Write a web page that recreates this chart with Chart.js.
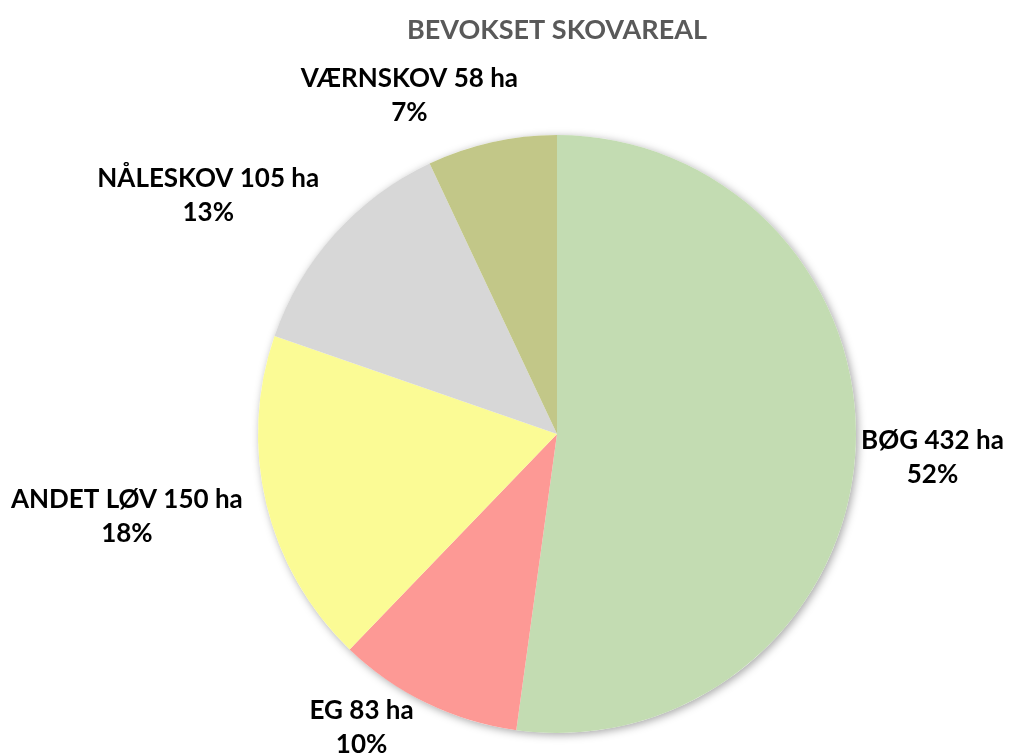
<!DOCTYPE html>
<html>
<head>
<meta charset="utf-8">
<script src="https://cdn.jsdelivr.net/npm/chart.js@4/dist/chart.umd.min.js"></script>
<style>
  html, body { margin: 0; padding: 0; background: #fff; }
  #wrap { width: 1024px; height: 756px; }
</style>
</head>
<body>
<div id="wrap"><canvas id="c"></canvas></div>
<script>
// ===== Data =====
const categories = ['BØG', 'EG', 'ANDET LØV', 'NÅLESKOV', 'VÆRNSKOV'];
const hectares   = [432, 83, 150, 105, 58];
const sliceColors = ['#c3dcb2', '#fd9995', '#fbfb95', '#d7d7d7', '#c2c788'];
const chartTitle = 'BEVOKSET SKOVAREAL';

const FONT = 'Lato, "Open Sans", sans-serif';

// ── Plugins ────────────────────────────────────────────────────────────────

// soft shadow behind the whole pie (drawn once, under the slices)
const pieShadow = {
  id: 'pieShadow',
  beforeDatasetsDraw(chart) {
    const arc = chart.getDatasetMeta(0).data[0];
    if (!arc) return;
    const { x, y, outerRadius } = arc.getProps(['x', 'y', 'outerRadius'], true);
    const ctx = chart.ctx;
    ctx.save();
    ctx.shadowColor = 'rgba(0,0,0,0.35)';
    ctx.shadowBlur = 8;
    ctx.shadowOffsetX = 2;
    ctx.shadowOffsetY = 2;
    ctx.fillStyle = '#fff';
    ctx.beginPath();
    ctx.arc(x, y, outerRadius, 0, Math.PI * 2);
    ctx.fill();
    ctx.restore();
  },
};

// title centred over the pie, not over the whole canvas
const pieTitle = {
  id: 'pieTitle',
  afterDraw(chart, args, opts) {
    const arc = chart.getDatasetMeta(0).data[0];
    if (!arc) return;
    const ctx = chart.ctx;
    ctx.save();
    ctx.font = `bold ${opts.size}px ${FONT}`;
    ctx.fillStyle = opts.color;
    ctx.textAlign = 'center';
    ctx.textBaseline = 'middle';
    ctx.fillText(opts.text, arc.x, opts.y);
    ctx.restore();
  },
};

// two-line "NAME xx ha / yy%" labels outside each slice
const outsideLabels = {
  id: 'outsideLabels',
  afterDatasetsDraw(chart, args, opts) {
    const ctx = chart.ctx;
    const data = chart.data.datasets[0].data;
    const total = data.reduce((a, b) => a + b, 0);
    ctx.save();
    ctx.font = `bold ${opts.size}px ${FONT}`;
    ctx.fillStyle = '#000';
    ctx.textAlign = 'center';
    ctx.textBaseline = 'middle';
    chart.getDatasetMeta(0).data.forEach((arc, i) => {
      const p = arc.getProps(['x', 'y', 'startAngle', 'endAngle', 'outerRadius'], true);
      const mid = (p.startAngle + p.endAngle) / 2;
      const dx = Math.cos(mid), dy = Math.sin(mid);
      const l1 = `${chart.data.labels[i]} ${data[i]} ha`;
      const l2 = `${Math.round(data[i] / total * 100)}%`;
      const w = Math.max(ctx.measureText(l1).width, ctx.measureText(l2).width);
      const h = opts.lineHeight * 2;
      const nudge = opts.nudge[i] || [0, 0];
      const cx = p.x + (p.outerRadius + opts.gap) * dx + dx * w / 2 + nudge[0];
      const cy = p.y + (p.outerRadius + opts.gap) * dy + dy * h / 2 + nudge[1];
      ctx.fillText(l1, cx, cy - opts.lineHeight / 2);
      ctx.fillText(l2, cx, cy + opts.lineHeight / 2);
    });
    ctx.restore();
  },
};

// ── Chart ───────────────────────────────────────────────────────────────────

new Chart(document.getElementById('c'), {
  type: 'pie',
  data: {
    labels: categories,
    datasets: [{
      data: hectares,
      backgroundColor: sliceColors,
      borderWidth: 0,
    }],
  },
  options: {
    responsive: true,
    maintainAspectRatio: false,
    animation: false,
    layout: { padding: { top: 135, bottom: 23, left: 90, right: 0 } },
    plugins: {
      legend: { display: false },
      tooltip: { enabled: false },
      title: { display: false },
      pieTitle: { text: chartTitle, size: 27, color: '#595959', y: 30 },
      outsideLabels: {
        size: 26,
        lineHeight: 34,
        gap: 12,
        nudge: [[-6, 0], [-37, -17], [-15, 2], [-35, -8], [-56, -2]],
      },
    },
  },
  plugins: [pieShadow, pieTitle, outsideLabels],
});
</script>
</body>
</html>
